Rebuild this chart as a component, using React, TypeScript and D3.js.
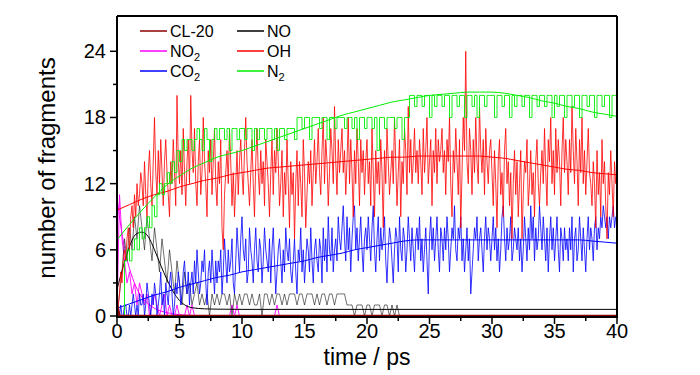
import React from 'react';
import * as d3 from 'd3';

// sampling steps of the raw trajectories (ps)
const DT_FINE = 0.1;
const DT = 0.2;

// OH count, t = 0 .. 40 ps every 0.1 ps
const ohRaw = [
  0, 1, 2, 4, 3, 5, 6, 5, 7, 8, 6, 9, 10, 8, 11, 9, 12, 10, 11, 13,
  12, 10, 14, 11, 9, 13, 15, 12, 10, 14, 18, 13, 11, 15, 12, 16, 13, 10, 14, 16,
  13, 11, 9, 14, 12, 16, 13, 10, 20, 14, 12, 15, 11, 17, 13, 10, 14, 16, 12, 20,
  15, 13, 17, 12, 10, 14, 16, 11, 13, 18, 14, 12, 9, 15, 13, 16, 11, 14, 17, 12,
  10, 14, 12, 16, 8, 6, 11, 13, 15, 12, 17, 14, 10, 13, 9, 12, 15, 11, 14, 16,
  13, 11, 15, 18, 14, 12, 10, 13, 16, 12, 9, 14, 17, 13, 11, 15, 12, 14, 10, 16,
  14, 12, 9, 13, 16, 11, 15, 13, 17, 14, 10, 12, 15, 9, 13, 11, 16, 12, 8, 14,
  11, 13, 7, 12, 15, 10, 14, 12, 9, 16, 13, 8, 11, 14, 12, 15, 10, 13, 16, 12,
  14, 17, 13, 11, 15, 18, 12, 16, 14, 10, 13, 17, 15, 12, 19, 14, 11, 16, 13, 15,
  17, 13, 15, 11, 14, 18, 12, 16, 13, 9, 15, 12, 17, 14, 10, 16, 13, 15, 11, 14,
  16, 12, 14, 10, 17, 13, 9, 15, 12, 14, 11, 16, 13, 8, 15, 12, 17, 14, 11, 13,
  15, 12, 18, 14, 10, 13, 16, 9, 14, 12, 17, 15, 11, 19, 13, 16, 12, 14, 17, 13,
  15, 12, 16, 14, 11, 17, 13, 15, 18, 12, 14, 16, 10, 15, 13, 17, 12, 16, 14, 15,
  17, 13, 15, 11, 16, 14, 18, 12, 9, 15, 13, 17, 14, 11, 16, 8, 13, 18, 15, 24,
  14, 12, 17, 15, 11, 16, 13, 18, 14, 12, 19, 15, 13, 16, 11, 17, 14, 12, 15, 16,
  13, 10, 15, 12, 8, 14, 16, 11, 13, 9, 15, 17, 12, 14, 10, 13, 7, 12, 15, 11,
  14, 9, 12, 15, 7, 11, 14, 13, 16, 10, 12, 15, 11, 13, 9, 14, 16, 12, 10, 13,
  15, 12, 17, 13, 10, 16, 14, 18, 12, 15, 11, 17, 13, 16, 14, 10, 15, 18, 13, 16,
  14, 11, 16, 13, 19, 15, 12, 17, 14, 10, 16, 13, 18, 12, 15, 11, 14, 17, 13, 12,
  10, 14, 12, 8, 15, 11, 13, 9, 16, 12, 14, 10, 7, 13, 11, 15, 12, 9, 14, 12,
  13,
];

// CO2 count, t = 0 .. 40 ps every 0.1 ps
const co2Raw = [
  0, 0, 0, 1, 0, 0, 1, 1, 0, 0, 1, 0, 1, 2, 1, 0, 1, 0, 2, 1,
  1, 2, 0, 1, 3, 2, 1, 0, 2, 1, 3, 2, 0, 1, 2, 4, 1, 2, 0, 3,
  2, 1, 3, 4, 2, 0, 1, 3, 2, 4, 3, 1, 2, 4, 5, 3, 2, 4, 1, 3,
  4, 2, 5, 3, 6, 4, 2, 3, 5, 4, 6, 3, 1, 4, 5, 3, 6, 4, 2, 5,
  3, 5, 4, 6, 2, 4, 7, 5, 3, 6, 4, 5, 7, 3, 2, 5, 8, 6, 4, 7,
  9, 6, 5, 7, 3, 4, 8, 6, 5, 3, 6, 8, 5, 4, 7, 6, 3, 5, 8, 6,
  5, 4, 7, 3, 6, 8, 5, 2, 4, 6, 7, 5, 3, 6, 4, 8, 6, 5, 7, 4,
  3, 5, 7, 4, 2, 6, 5, 8, 4, 6, 3, 5, 7, 6, 4, 8, 5, 3, 6, 7,
  5, 4, 7, 6, 3, 8, 5, 7, 4, 9, 6, 5, 8, 4, 6, 7, 5, 9, 7, 6,
  8, 10, 7, 5, 9, 6, 8, 4, 7, 9, 10, 6, 8, 5, 7, 9, 6, 4, 7, 8,
  6, 9, 7, 5, 8, 10, 6, 4, 7, 9, 5, 8, 6, 7, 9, 5, 3, 6, 8, 7,
  5, 3, 6, 8, 7, 4, 9, 6, 5, 8, 7, 4, 6, 9, 7, 5, 8, 6, 4, 7,
  8, 6, 9, 5, 7, 4, 6, 8, 5, 2, 7, 9, 6, 8, 5, 7, 9, 6, 4, 8,
  7, 5, 8, 6, 9, 7, 4, 6, 8, 7, 10, 6, 5, 8, 7, 9, 5, 7, 4, 6,
  8, 5, 7, 2, 4, 6, 8, 7, 9, 5, 7, 8, 6, 4, 7, 9, 6, 8, 7, 5,
  7, 9, 6, 8, 5, 7, 4, 6, 9, 10, 7, 5, 8, 6, 7, 9, 5, 6, 8, 7,
  6, 8, 5, 7, 4, 6, 9, 7, 5, 8, 6, 10, 7, 9, 5, 8, 6, 7, 10, 8,
  6, 9, 7, 5, 8, 4, 7, 9, 6, 8, 5, 7, 9, 6, 4, 8, 7, 5, 8, 6,
  7, 5, 8, 6, 9, 4, 7, 8, 5, 6, 9, 7, 5, 8, 6, 4, 7, 9, 6, 8,
  7, 5, 8, 9, 6, 8, 7, 9, 8, 10, 9, 8, 9, 7, 9, 8, 9, 10, 8, 9,
  9,
];

// N2 count, t = 0 .. 40 ps every 0.2 ps
const n2Raw = [
  0, 0, 0, 5, 6, 5, 6, 7, 6, 8,
  7, 8, 9, 8, 10, 9, 11, 12, 11, 12,
  13, 12, 14, 13, 15, 14, 16, 15, 16, 16,
  15, 16, 17, 16, 15, 17, 16, 14, 16, 17,
  16, 17, 17, 16, 17, 15, 17, 17, 16, 17,
  17, 16, 17, 17, 15, 17, 16, 17, 17, 16,
  17, 17, 16, 17, 15, 17, 17, 16, 17, 17,
  17, 16, 18, 18, 17, 18, 18, 16, 18, 18,
  18, 17, 18, 18, 16, 18, 18, 17, 18, 18,
  18, 17, 18, 18, 17, 18, 16, 18, 18, 17,
  18, 18, 17, 18, 15, 18, 18, 17, 18, 18,
  18, 17, 18, 18, 16, 18, 18, 20, 20, 19,
  20, 20, 19, 20, 20, 18, 20, 19, 20, 20,
  19, 20, 20, 18, 20, 20, 19, 20, 20, 18,
  20, 20, 19, 20, 18, 20, 20, 19, 20, 20,
  20, 18, 20, 20, 19, 20, 20, 18, 20, 19,
  20, 20, 19, 20, 20, 18, 20, 20, 19, 20,
  20, 19, 20, 20, 18, 20, 19, 20, 20, 18,
  20, 20, 19, 20, 20, 18, 20, 20, 19, 20,
  20, 18, 20, 20, 19, 20, 20, 18, 20, 20,
  20,
];

// NO count, t = 0 .. 23 ps every 0.2 ps
const noRaw = [
  0, 2, 4, 7, 5, 8, 6, 9, 7, 10,
  8, 6, 9, 7, 5, 8, 6, 4, 7, 5,
  3, 6, 4, 2, 5, 3, 1, 4, 2, 3,
  1, 2, 3, 1, 2, 1, 2, 0, 2, 1,
  2, 1, 2, 2, 1, 2, 0, 2, 1, 2,
  1, 2, 2, 1, 2, 1, 1, 2, 0, 2,
  2, 1, 2, 1, 2, 2, 1, 2, 1, 2,
  2, 2, 1, 2, 2, 1, 2, 2, 2, 1,
  2, 1, 2, 2, 1, 2, 2, 1, 2, 2,
  2, 2, 1, 1, 1, 0, 1, 1, 1, 0,
  1, 1, 0, 1, 1, 1, 0, 1, 1, 0,
  1, 0, 1, 0, 0, 0,
];

// NO2 count, t = 0 .. 13.4 ps every 0.2 ps
const no2Raw = [
  0, 11, 7, 5, 3, 4, 2, 3, 1, 3,
  2, 1, 2, 0, 1, 2, 1, 0, 1, 2,
  0, 1, 0, 0, 1, 0, 0, 0, 1, 0,
  1, 0, 0, 0, 0, 0, 0, 0, 0, 0,
  0, 0, 0, 0, 0, 0, 1, 0, 1, 0,
  0, 0, 0, 0, 0, 0, 0, 0, 0, 0,
  0, 0, 0, 0, 1, 0, 0, 0,
];

const cl20Times = [0, 0.2, 0.4, 40];
const cl20Raw = [1, 0, 0, 0];

// fitted curves
const fitTimes = [
  0, 1, 2, 3, 4, 5, 6, 7, 8, 9, 10, 11, 12, 13, 14, 15, 16, 17, 18, 19, 20,
  21, 22, 23, 24, 25, 26, 27, 28, 29, 30, 31, 32, 33, 34, 35, 36, 37, 38, 39, 40,
];
const ohFit = [
  9.6, 10.1, 10.6, 11.0, 11.3, 11.7, 12.0, 12.3, 12.5, 12.8, 13.0, 13.2, 13.4, 13.5, 13.6, 13.7, 13.8, 13.9, 14.0, 14.1, 14.2,
  14.3, 14.4, 14.4, 14.5, 14.5, 14.5, 14.5, 14.5, 14.5, 14.4, 14.3, 14.1, 13.9, 13.7, 13.5, 13.3, 13.2, 13.0, 12.9, 12.8,
];
const n2Fit = [
  6.9, 8.3, 9.6, 10.8, 11.9, 12.7, 13.4, 13.9, 14.4, 14.7, 15.0, 15.4, 15.8, 16.2, 16.6, 17.0, 17.4, 17.8, 18.2, 18.5, 18.8,
  19.1, 19.4, 19.6, 19.8, 20.0, 20.1, 20.2, 20.3, 20.3, 20.3, 20.2, 20.0, 19.8, 19.5, 19.3, 19.0, 18.8, 18.5, 18.3, 18.1,
];
const co2Fit = [
  0.7, 1.1, 1.5, 1.9, 2.2, 2.6, 2.9, 3.2, 3.5, 3.7, 4.0, 4.2, 4.4, 4.6, 4.8, 5.0, 5.3, 5.5, 5.7, 6.0, 6.2,
  6.4, 6.6, 6.8, 6.9, 6.9, 6.9, 6.9, 6.9, 6.9, 6.9, 6.9, 6.9, 6.9, 6.9, 6.9, 6.9, 6.9, 6.8, 6.7, 6.6,
];
const noFitTimes = [0, 0.5, 1, 1.5, 2, 2.5, 3, 3.5, 4, 4.5, 5, 5.5, 6, 7, 8, 10, 20, 30, 40];
const noFit = [2.4, 4.5, 6.3, 7.4, 7.6, 7.2, 6.0, 4.6, 3.3, 2.2, 1.4, 0.95, 0.75, 0.65, 0.62, 0.6, 0.6, 0.6, 0.6];
const no2FitTimes = [0, 0.25, 0.5, 0.75, 1, 1.5, 2, 2.5, 3, 4, 5, 6, 8, 40];
const no2Fit = [10.8, 8.6, 6.8, 5.4, 4.3, 2.7, 1.7, 1.1, 0.7, 0.3, 0.12, 0.05, 0, 0];

const xTicks = [0, 5, 10, 15, 20, 25, 30, 35, 40];
const xMinor = [2.5, 7.5, 12.5, 17.5, 22.5, 27.5, 32.5, 37.5];
const yTicks = [0, 6, 12, 18, 24];
const yMinor = [3, 9, 15, 21];

const legendItems = [
  { name: 'CL-20', sub: '', color: '#8b0000', col: 0, row: 0 },
  { name: 'NO', sub: '2', color: '#ff00ff', col: 0, row: 1 },
  { name: 'CO', sub: '2', color: '#0000ff', col: 0, row: 2 },
  { name: 'NO', sub: '', color: '#000000', col: 1, row: 0 },
  { name: 'OH', sub: '', color: '#ff0000', col: 1, row: 1 },
  { name: 'N', sub: '2', color: '#00ee00', col: 1, row: 2 },
];

const FONT = '"Liberation Sans", Arial, sans-serif';

export default function App() {
  const left = 117, right = 617, top = 16, bottom = 316;
  const x = d3.scaleLinear().domain([0, 40]).range([left, right]);
  const y = d3.scaleLinear().domain([0, 27.2]).range([bottom, top]);

  const rawPath = (vals: number[], dt: number, curve: d3.CurveFactory = d3.curveLinear) =>
    d3.line<number>().x((_, i) => x(i * dt)).y((v) => y(v)).curve(curve)(vals) || '';
  const fitPath = (ts: number[], vs: number[]) =>
    d3.line<number>().x((_, i) => x(ts[i])).y((v) => y(v)).curve(d3.curveMonotoneX)(vs) || '';

  return (
    <svg width={700} height={375} style={{ position: 'absolute', left: 0, top: 0, background: '#fff' }} fontFamily={FONT}>
      <defs>
        <clipPath id="plot">
          <rect x={left} y={top} width={right - left} height={bottom - top} />
        </clipPath>
      </defs>
      <g clipPath="url(#plot)" fill="none">
        <path d={rawPath(no2Raw, DT)} stroke="#ff00ff" strokeWidth={0.9} />
        <path d={fitPath(no2FitTimes, no2Fit)} stroke="#ff00ff" strokeWidth={1} />
        <path d={rawPath(noRaw, DT)} stroke="#000" strokeWidth={0.7} strokeOpacity={0.8} />
        <path d={fitPath(noFitTimes, noFit)} stroke="#000" strokeWidth={1} />
        <path d={rawPath(co2Raw, DT_FINE)} stroke="#0000ff" strokeWidth={0.8} />
        <path d={fitPath(fitTimes, co2Fit)} stroke="#0000ff" strokeWidth={1} />
        <path d={rawPath(ohRaw, DT_FINE)} stroke="#ff0000" strokeWidth={0.8} />
        <path d={fitPath(fitTimes, ohFit)} stroke="#ff0000" strokeWidth={1} />
        <path d={rawPath(n2Raw, DT, d3.curveStepAfter)} stroke="#00ee00" strokeWidth={0.9} />
        <path d={fitPath(fitTimes, n2Fit)} stroke="#00ee00" strokeWidth={1} />
        <path
          d={d3.line<number>().x((_, i) => x(cl20Times[i])).y((v) => y(v))(cl20Raw) || ''}
          stroke="#8b0000"
          strokeWidth={2.5}
        />
      </g>
      {/* frame */}
      <line x1={left} x2={right} y1={top} y2={top} stroke="#000" strokeWidth={2} />
      <line x1={right} x2={right} y1={top} y2={bottom} stroke="#000" strokeWidth={2} />
      <line x1={left} x2={left} y1={top} y2={bottom + 1} stroke="#000" strokeWidth={2} />
      <line x1={left - 1} x2={right + 1} y1={bottom + 1} y2={bottom + 1} stroke="#000" strokeWidth={2} />
      {/* x ticks */}
      {xTicks.map((t) => (
        <g key={'x' + t}>
          <line x1={x(t)} x2={x(t)} y1={bottom + 1} y2={bottom + 8} stroke="#000" strokeWidth={1.5} />
          <text x={x(t)} y={bottom + 22} fontSize={20} textAnchor="middle">{t}</text>
        </g>
      ))}
      {xMinor.map((t) => (
        <line key={'xm' + t} x1={x(t)} x2={x(t)} y1={bottom + 1} y2={bottom + 5} stroke="#000" strokeWidth={1.5} />
      ))}
      {yTicks.map((t) => (
        <g key={'y' + t}>
          <line x1={left - 7} x2={left} y1={y(t)} y2={y(t)} stroke="#000" strokeWidth={1.5} />
          <text x={left - 11} y={y(t) + 7} fontSize={20} textAnchor="end">{t}</text>
        </g>
      ))}
      {yMinor.map((t) => (
        <line key={'ym' + t} x1={left - 4} x2={left} y1={y(t)} y2={y(t)} stroke="#000" strokeWidth={1.5} />
      ))}
      <text x={(left + right) / 2} y={365} fontSize={23} textAnchor="middle">time / ps</text>
      <text transform={`translate(55, 168) rotate(-90)`} fontSize={24} textAnchor="middle">
        number of fragments
      </text>
      {/* legend */}
      {legendItems.map((it) => {
        const lx = it.col === 0 ? 140 : 237;
        const ly = 31 + it.row * 20;
        return (
          <g key={it.name + it.sub + it.col}>
            <line x1={lx} x2={lx + 27} y1={ly} y2={ly} stroke={it.color} strokeWidth={1.5} />
            <text x={lx + 30} y={ly + 6} fontSize={16}>
              {it.name}
              {it.sub && (
                <tspan fontSize={11} dy={4}>{it.sub}</tspan>
              )}
            </text>
          </g>
        );
      })}
    </svg>
  );
}
